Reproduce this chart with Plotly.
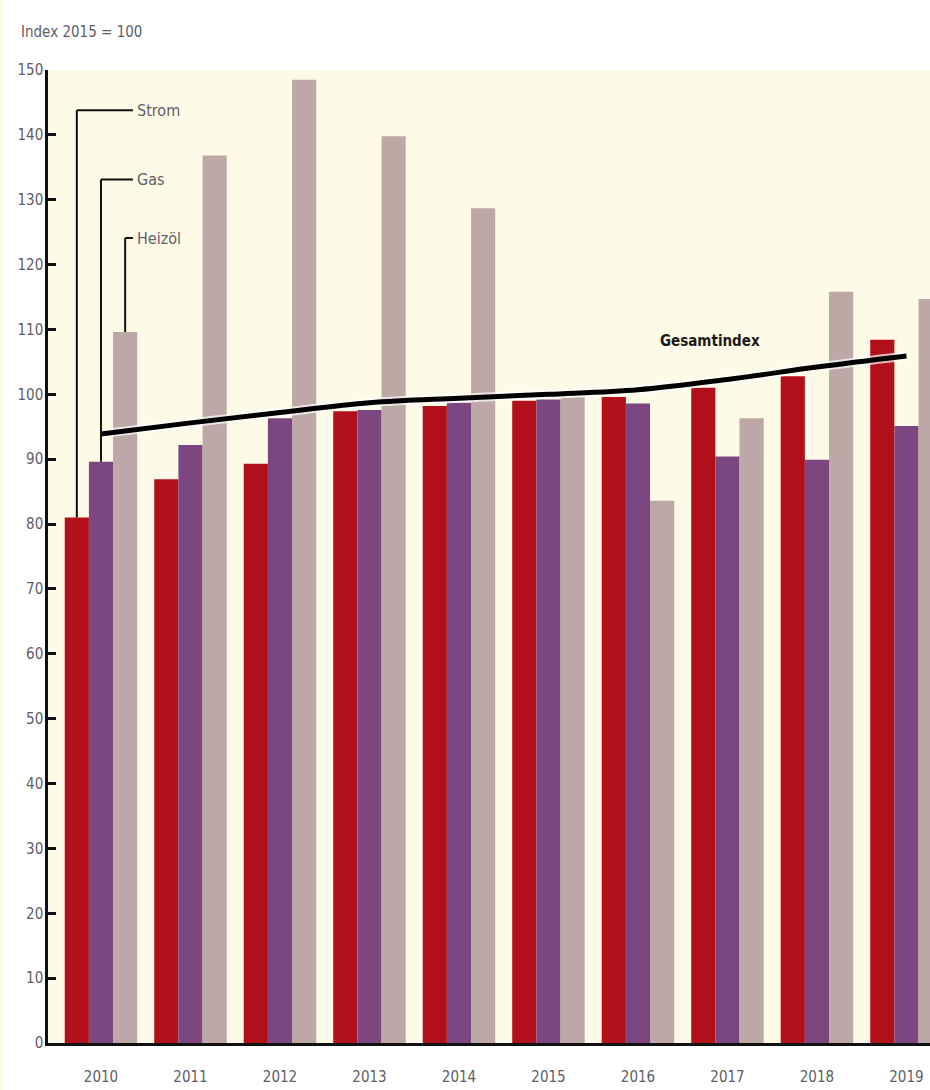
import plotly.graph_objects as go

years = ["2010", "2011", "2012", "2013", "2014", "2015", "2016", "2017", "2018", "2019"]
strom = [81.0, 86.9, 89.3, 97.4, 98.2, 99.0, 99.6, 101.0, 102.8, 108.4]
gas = [89.6, 92.2, 96.3, 97.6, 98.7, 99.2, 98.6, 90.4, 89.9, 95.1]
heizoel = [109.6, 136.8, 148.5, 139.8, 128.7, 99.6, 83.6, 96.3, 115.8, 114.7]
gesamt = [93.9, 95.6, 97.2, 98.7, 99.4, 100.0, 100.7, 102.3, 104.2, 105.9]
series_names = ["Strom", "Gas", "Heizöl"]
line_name = "Gesamtindex"
y_title = "Index 2015 = 100"
y_ticks = [0, 10, 20, 30, 40, 50, 60, 70, 80, 90, 100, 110, 120, 130, 140, 150]

RED = "#B10F1A"
PURPLE = "#7C4680"
ROSE = "#BDA7A7"
CREAM = "#FEFAE8"
TXT = "#5E5E68"
FONT = "Liberation Sans Narrow, DejaVu Sans Condensed, Roboto, sans-serif"
BARGAP = 0.19

x = list(range(len(years)))
fig = go.Figure()
for vals, name, col in zip([strom, gas, heizoel], series_names, [RED, PURPLE, ROSE]):
    fig.add_trace(go.Bar(x=x, y=vals, name=name, marker=dict(color=col, line=dict(width=0))))

fig.add_trace(go.Scatter(x=x, y=gesamt, mode="lines", line=dict(color="rgba(255,255,255,0.7)", width=9, shape="spline"),
                         hoverinfo="skip", showlegend=False))
fig.add_trace(go.Scatter(x=x, y=gesamt, mode="lines", name=line_name,
                         line=dict(color="#000000", width=5, shape="spline"), showlegend=False))

w = (1 - BARGAP) / 3
label_y = [143.8, 133.1, 124.1]
bar_x = [x[0] - w, x[0], x[0] + w]
first_vals = [strom[0], gas[0], heizoel[0]]
x_end = 0.357
shapes = []
annotations = []
for bx, ly, v, name in zip(bar_x, label_y, first_vals, series_names):
    shapes.append(dict(type="line", xref="x", yref="y", x0=bx, x1=bx, y0=v, y1=ly,
                       line=dict(color="#111", width=2)))
    shapes.append(dict(type="line", xref="x", yref="y", x0=bx, x1=x_end, y0=ly, y1=ly,
                       line=dict(color="#111", width=2)))
    annotations.append(dict(x=x_end, y=ly, xref="x", yref="y", text=name, showarrow=False,
                            xanchor="left", yanchor="middle", xshift=2,
                            font=dict(family=FONT, size=16, color=TXT)))

annotations.append(dict(x=6.8, y=108.2, xref="x", yref="y", text="<b>" + line_name + "</b>", showarrow=False,
                        xanchor="center", yanchor="middle",
                        font=dict(family=FONT, size=15, color="#1A1A1A")))

PW, PH, L, T, B = 882, 973, 48, 70, 47
annotations.append(dict(x=(19 - L) / PW, y=1 + (T - 32) / PH, xref="paper", yref="paper", text=y_title,
                        showarrow=False, xanchor="left", yanchor="middle",
                        font=dict(family=FONT, size=15, color=TXT)))

shapes.append(dict(type="rect", xref="paper", yref="paper", x0=-L / PW, x1=-(L - 4) / PW,
                   y0=-B / PH, y1=1 + T / PH, fillcolor=CREAM, line=dict(width=0), layer="below"))

fig.update_layout(
    width=930, height=1090,
    margin=dict(l=L, r=0, t=T, b=B),
    paper_bgcolor="white", plot_bgcolor=CREAM,
    barmode="group", bargap=BARGAP, bargroupgap=0,
    showlegend=False,
    shapes=shapes, annotations=annotations,
    xaxis=dict(range=[-0.592, 9.263], tickvals=x, ticktext=years, showgrid=False, zeroline=False,
               showline=True, linecolor="#111", linewidth=3, ticks="", ticklabelstandoff=18,
               tickfont=dict(family=FONT, size=15, color=TXT)),
    yaxis=dict(range=[0, 150], tickvals=y_ticks, showgrid=False, zeroline=False,
               showline=True, linecolor="#111", linewidth=2.5, ticks="inside", ticklen=8,
               tickwidth=2.5, tickcolor="#111", ticklabelstandoff=-1,
               tickfont=dict(family=FONT, size=15, color=TXT)),
)

fig.write_html("out.html")
